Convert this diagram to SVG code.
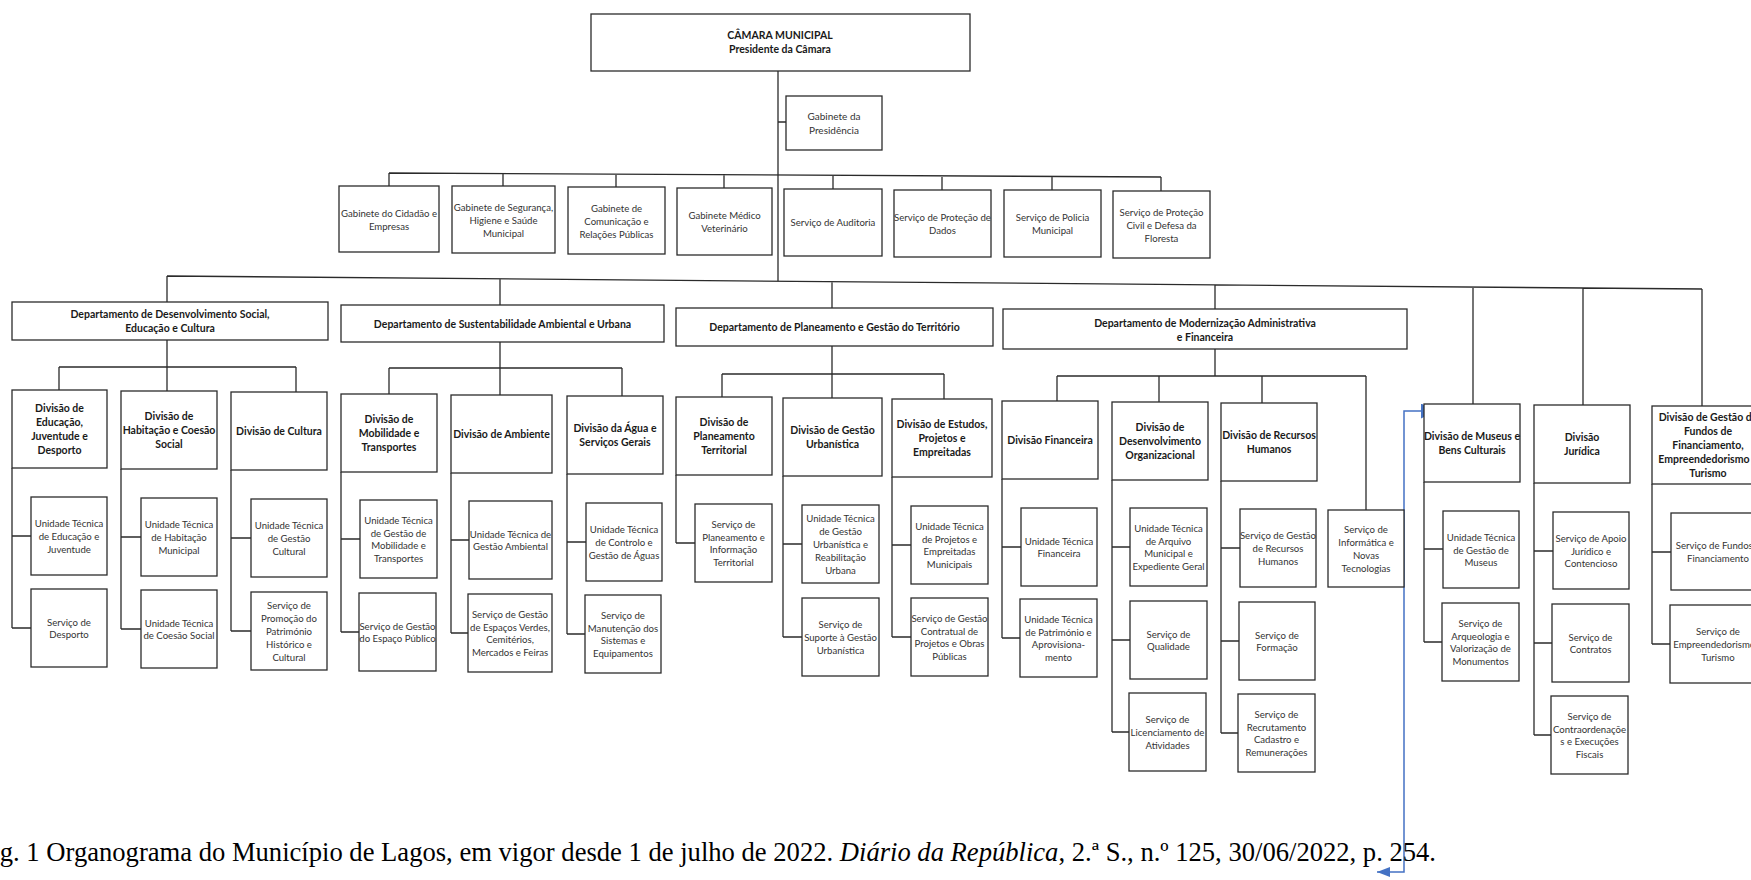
<svg xmlns="http://www.w3.org/2000/svg" width="1751" height="880" viewBox="0 0 1751 880">
<style>
.box{fill:#fff;stroke:#2b2b2b;stroke-width:1.3}
.ln{fill:none;stroke:#2b2b2b;stroke-width:1.3}
.b{font-family:Lato,"Liberation Sans",sans-serif;font-weight:bold;font-size:10.5px;fill:#1a1a1a;text-anchor:middle;dominant-baseline:central}
.r{font-family:Lato,"Liberation Sans",sans-serif;font-size:9.6px;fill:#333;text-anchor:middle;dominant-baseline:central}
.blue{fill:none;stroke:#4472C4;stroke-width:1.5}
.cap{font-family:"Liberation Serif","Times New Roman",serif;font-size:26.6px;fill:#000;text-anchor:end}
</style>
<defs>
<marker id="arrTop" markerUnits="userSpaceOnUse" markerWidth="16" markerHeight="16" refX="15" refY="7.5" orient="auto"><path d="M0,0 L15,7.5 L0,15 Z" fill="#4472C4"/></marker>
<marker id="arrBot" markerUnits="userSpaceOnUse" markerWidth="14" markerHeight="12" refX="13" refY="5" orient="auto-start-reverse"><path d="M0,0 L13,5 L0,10 Z" fill="#4472C4"/></marker>
</defs>
<rect width="1751" height="880" fill="#fff"/>

<g id="connectors">
<path class="ln" d="M778,71 V281 M778,122 H786"/>
<path class="ln" d="M389,173 L1161,177 M389,173 V186 M503,173 V186 M616,174 V187 M724,174 V188 M833,175 V189 M942,176 V190 M1052,176 V190 M1161,177 V191"/>
<path class="ln" d="M167,276 L1702,289 M167,276 V302 M500,279 V305 M832,282 V308 M1215,285 V309 M1473,287 V404 M1583,288 V405 M1702,289 V406"/>
<path class="ln" d="M167,340 V367 M59,367 H296 M59,367 V390 M167,367 V391 M296,367 V392"/>
<path class="ln" d="M500,342 V368 M389,368 H622 M389,368 V394 M500,368 V395 M622,368 V396"/>
<path class="ln" d="M832,346 V374 M722,374 H944 M722,374 V397 M832,374 V398 M944,374 V399"/>
<path class="ln" d="M1215,349 V376 M1057,376 H1366 M1057,376 V401 M1159,376 V402 M1262,376 V403 M1366,376 V510"/>
<path class="ln" d="M12,468 V628 M12,536 H31 M12,628 H31"/>
<path class="ln" d="M121,469 V629 M121,537 H141 M121,629 H141"/>
<path class="ln" d="M231,470 V631 M231,538 H251 M231,631 H251"/>
<path class="ln" d="M341,472 V632 M341,539 H360 M341,632 H359"/>
<path class="ln" d="M451,473 V633 M451,540 H469 M451,633 H468"/>
<path class="ln" d="M567,474 V634 M567,542 H586 M567,634 H585"/>
<path class="ln" d="M676,475 V543 M676,543 H695"/>
<path class="ln" d="M783,476 V637 M783,544 H802 M783,637 H802"/>
<path class="ln" d="M892,477 V637 M892,545 H911 M892,637 H911"/>
<path class="ln" d="M1002,479 V638 M1002,547 H1021 M1002,638 H1020"/>
<path class="ln" d="M1112,480 V732 M1112,547 H1130 M1112,640 H1130 M1112,732 H1129"/>
<path class="ln" d="M1221,481 V733 M1221,548 H1240 M1221,641 H1239 M1221,733 H1238"/>
<path class="ln" d="M1424,482 V642 M1424,549 H1443 M1424,642 H1442"/>
<path class="ln" d="M1534,483 V735 M1534,551 H1553 M1534,643 H1552 M1534,735 H1551"/>
<path class="ln" d="M1652,484 V644 M1652,552 H1671 M1652,644 H1670"/>
<path class="blue" d="M1377,872 H1404 V411 H1436" marker-start="url(#arrBot)" marker-end="url(#arrTop)"/>
</g>

<g id="camara"><rect class="box" x="591" y="14" width="379" height="57"/><text class="b" x="780" y="35"><tspan x="780">CÂMARA MUNICIPAL</tspan><tspan x="780" dy="14">Presidente da Câmara</tspan></text></g>
<g id="gab-presidencia"><rect class="box" x="786" y="96" width="96" height="54"/><text class="r" x="834" y="116" style="font-size:10px"><tspan x="834">Gabinete da</tspan><tspan x="834" dy="14">Presidência</tspan></text></g>

<g id="gab-cidadao"><rect class="box" x="339" y="186" width="100" height="66"/><text class="r" x="389" y="212.5"><tspan x="389">Gabinete do Cidadão e</tspan><tspan x="389" dy="13">Empresas</tspan></text></g>
<g id="gab-seguranca"><rect class="box" x="452" y="186" width="103" height="67"/><text class="r" x="503.5" y="206.5"><tspan x="503.5">Gabinete de Segurança,</tspan><tspan x="503.5" dy="13">Higiene e Saúde</tspan><tspan x="503.5" dy="13">Municipal</tspan></text></g>
<g id="gab-comunicacao"><rect class="box" x="568" y="187" width="97" height="67"/><text class="r" x="616.5" y="207.5"><tspan x="616.5">Gabinete de</tspan><tspan x="616.5" dy="13">Comunicação e</tspan><tspan x="616.5" dy="13">Relações Públicas</tspan></text></g>
<g id="gab-veterinario"><rect class="box" x="677" y="188" width="95" height="67"/><text class="r" x="724.5" y="215"><tspan x="724.5">Gabinete Médico</tspan><tspan x="724.5" dy="13">Veterinário</tspan></text></g>
<g id="serv-auditoria"><rect class="box" x="784" y="189" width="98" height="67"/><text class="r" x="833" y="222.5">Serviço de Auditoria</text></g>
<g id="serv-dados"><rect class="box" x="894" y="190" width="97" height="67"/><text class="r" x="942.5" y="217"><tspan x="942.5">Serviço de Proteção de</tspan><tspan x="942.5" dy="13">Dados</tspan></text></g>
<g id="serv-policia"><rect class="box" x="1004" y="190" width="97" height="67"/><text class="r" x="1052.5" y="217"><tspan x="1052.5">Serviço de Policia</tspan><tspan x="1052.5" dy="13">Municipal</tspan></text></g>
<g id="serv-protecao-civil"><rect class="box" x="1113" y="191" width="97" height="67"/><text class="r" x="1161.5" y="211.5"><tspan x="1161.5">Serviço de Proteção</tspan><tspan x="1161.5" dy="13">Civil e Defesa da</tspan><tspan x="1161.5" dy="13">Floresta</tspan></text></g>

<g id="dept-social"><rect class="box" x="12" y="302" width="316" height="38"/><text class="b" x="170" y="314.2"><tspan x="170">Departamento de Desenvolvimento Social,</tspan><tspan x="170" dy="13.5">Educação e Cultura</tspan></text></g>
<g id="dept-sustentabilidade"><rect class="box" x="341" y="305" width="323" height="37"/><text class="b" x="502.5" y="323.5">Departamento de Sustentabilidade Ambiental e Urbana</text></g>
<g id="dept-planeamento"><rect class="box" x="676" y="308" width="317" height="38"/><text class="b" x="834.5" y="327">Departamento de Planeamento e Gestão do Território</text></g>
<g id="dept-modernizacao"><rect class="box" x="1003" y="309" width="404" height="40"/><text class="b" x="1205" y="323"><tspan x="1205">Departamento de Modernização Administrativa</tspan><tspan x="1205" dy="14">e Financeira</tspan></text></g>

<g id="div-educacao"><rect class="box" x="12" y="390" width="95" height="78"/><text class="b" x="59.5" y="408"><tspan x="59.5">Divisão de</tspan><tspan x="59.5" dy="14">Educação,</tspan><tspan x="59.5" dy="14">Juventude e</tspan><tspan x="59.5" dy="14">Desporto</tspan></text></g>
<g id="div-habitacao"><rect class="box" x="121" y="391" width="96" height="78"/><text class="b" x="169" y="416"><tspan x="169">Divisão de</tspan><tspan x="169" dy="14">Habitação e Coesão</tspan><tspan x="169" dy="14">Social</tspan></text></g>
<g id="div-cultura"><rect class="box" x="231" y="392" width="96" height="78"/><text class="b" x="279" y="431">Divisão de Cultura</text></g>
<g id="div-mobilidade"><rect class="box" x="341" y="394" width="96" height="78"/><text class="b" x="389" y="419"><tspan x="389">Divisão de</tspan><tspan x="389" dy="14">Mobilidade e</tspan><tspan x="389" dy="14">Transportes</tspan></text></g>
<g id="div-ambiente"><rect class="box" x="451" y="395" width="101" height="78"/><text class="b" x="501.5" y="434">Divisão de Ambiente</text></g>
<g id="div-agua"><rect class="box" x="567" y="396" width="96" height="78"/><text class="b" x="615" y="428"><tspan x="615">Divisão da Água e</tspan><tspan x="615" dy="14">Serviços Gerais</tspan></text></g>
<g id="div-planeamento"><rect class="box" x="676" y="397" width="96" height="78"/><text class="b" x="724" y="422"><tspan x="724">Divisão de</tspan><tspan x="724" dy="14">Planeamento</tspan><tspan x="724" dy="14">Territorial</tspan></text></g>
<g id="div-gestao-urb"><rect class="box" x="783" y="398" width="99" height="78"/><text class="b" x="832.5" y="430"><tspan x="832.5">Divisão de Gestão</tspan><tspan x="832.5" dy="14">Urbanística</tspan></text></g>
<g id="div-estudos"><rect class="box" x="892" y="399" width="100" height="78"/><text class="b" x="942" y="424"><tspan x="942">Divisão de Estudos,</tspan><tspan x="942" dy="14">Projetos e</tspan><tspan x="942" dy="14">Empreitadas</tspan></text></g>
<g id="div-financeira"><rect class="box" x="1002" y="401" width="96" height="78"/><text class="b" x="1050" y="440">Divisão Financeira</text></g>
<g id="div-desorg"><rect class="box" x="1112" y="402" width="96" height="78"/><text class="b" x="1160" y="427"><tspan x="1160">Divisão de</tspan><tspan x="1160" dy="14">Desenvolvimento</tspan><tspan x="1160" dy="14">Organizacional</tspan></text></g>
<g id="div-rh"><rect class="box" x="1221" y="403" width="96" height="78"/><text class="b" x="1269" y="435"><tspan x="1269">Divisão de Recursos</tspan><tspan x="1269" dy="14">Humanos</tspan></text></g>
<g id="div-museus"><rect class="box" x="1424" y="404" width="96" height="78"/><text class="b" x="1472" y="436"><tspan x="1472">Divisão de Museus e</tspan><tspan x="1472" dy="14">Bens Culturais</tspan></text></g>
<g id="div-juridica"><rect class="box" x="1534" y="405" width="96" height="78"/><text class="b" x="1582" y="437"><tspan x="1582">Divisão</tspan><tspan x="1582" dy="14">Jurídica</tspan></text></g>
<g id="div-fundos"><rect class="box" x="1652" y="406" width="113" height="78"/><text class="b" x="1708" y="417"><tspan x="1708">Divisão de Gestão de</tspan><tspan x="1708" dy="14">Fundos de</tspan><tspan x="1708" dy="14">Financiamento,</tspan><tspan x="1708" dy="14">Empreendedorismo e</tspan><tspan x="1708" dy="14">Turismo</tspan></text></g>

<g id="ut-educacao"><rect class="box" x="31" y="497" width="76" height="78"/><text class="r" x="69" y="523.2"><tspan x="69">Unidade Técnica</tspan><tspan x="69" dy="12.8">de Educação e</tspan><tspan x="69" dy="12.8">Juventude</tspan></text></g>
<g id="serv-desporto"><rect class="box" x="31" y="589" width="76" height="78"/><text class="r" x="69" y="621.6"><tspan x="69">Serviço de</tspan><tspan x="69" dy="12.8">Desporto</tspan></text></g>
<g id="ut-habitacao"><rect class="box" x="141" y="498" width="76" height="78"/><text class="r" x="179" y="524.2"><tspan x="179">Unidade Técnica</tspan><tspan x="179" dy="12.8">de Habitação</tspan><tspan x="179" dy="12.8">Municipal</tspan></text></g>
<g id="ut-coesao"><rect class="box" x="141" y="590" width="76" height="78"/><text class="r" x="179" y="622.6"><tspan x="179">Unidade Técnica</tspan><tspan x="179" dy="12.8">de Coesão Social</tspan></text></g>
<g id="ut-cultural"><rect class="box" x="251" y="499" width="76" height="78"/><text class="r" x="289" y="525.2"><tspan x="289">Unidade Técnica</tspan><tspan x="289" dy="12.8">de Gestão</tspan><tspan x="289" dy="12.8">Cultural</tspan></text></g>
<g id="serv-patrimonio"><rect class="box" x="251" y="592" width="76" height="78"/><text class="r" x="289" y="605.4"><tspan x="289">Serviço de</tspan><tspan x="289" dy="12.8">Promoção do</tspan><tspan x="289" dy="12.8">Património</tspan><tspan x="289" dy="12.8">Histórico e</tspan><tspan x="289" dy="12.8">Cultural</tspan></text></g>
<g id="ut-mobilidade"><rect class="box" x="360" y="500" width="77" height="78"/><text class="r" x="398.5" y="519.8"><tspan x="398.5">Unidade Técnica</tspan><tspan x="398.5" dy="12.8">de Gestão de</tspan><tspan x="398.5" dy="12.8">Mobilidade e</tspan><tspan x="398.5" dy="12.8">Transportes</tspan></text></g>
<g id="serv-espaco-publico"><rect class="box" x="359" y="593" width="77" height="78"/><text class="r" x="397.5" y="625.6"><tspan x="397.5">Serviço de Gestão</tspan><tspan x="397.5" dy="12.8">do Espaço Público</tspan></text></g>
<g id="ut-ambiental"><rect class="box" x="469" y="501" width="83" height="78"/><text class="r" x="510.5" y="533.6"><tspan x="510.5">Unidade Técnica de</tspan><tspan x="510.5" dy="12.8">Gestão Ambiental</tspan></text></g>
<g id="serv-espacos-verdes"><rect class="box" x="468" y="594" width="84" height="78"/><text class="r" x="510" y="613.8"><tspan x="510">Serviço de Gestão</tspan><tspan x="510" dy="12.8">de Espaços Verdes,</tspan><tspan x="510" dy="12.8">Cemitérios,</tspan><tspan x="510" dy="12.8">Mercados e Feiras</tspan></text></g>
<g id="ut-aguas"><rect class="box" x="586" y="503" width="76" height="78"/><text class="r" x="624" y="529.2"><tspan x="624">Unidade Técnica</tspan><tspan x="624" dy="12.8">de Controlo e</tspan><tspan x="624" dy="12.8">Gestão de Águas</tspan></text></g>
<g id="serv-manutencao"><rect class="box" x="585" y="595" width="76" height="78"/><text class="r" x="623" y="614.8"><tspan x="623">Serviço de</tspan><tspan x="623" dy="12.8">Manutenção dos</tspan><tspan x="623" dy="12.8">Sistemas e</tspan><tspan x="623" dy="12.8">Equipamentos</tspan></text></g>
<g id="serv-planeamento"><rect class="box" x="695" y="504" width="77" height="78"/><text class="r" x="733.5" y="523.8"><tspan x="733.5">Serviço de</tspan><tspan x="733.5" dy="12.8">Planeamento e</tspan><tspan x="733.5" dy="12.8">Informação</tspan><tspan x="733.5" dy="12.8">Territorial</tspan></text></g>
<g id="ut-gestao-urb"><rect class="box" x="802" y="505" width="77" height="78"/><text class="r" x="840.5" y="518.4"><tspan x="840.5">Unidade Técnica</tspan><tspan x="840.5" dy="12.8">de Gestão</tspan><tspan x="840.5" dy="12.8">Urbanística e</tspan><tspan x="840.5" dy="12.8">Reabilitação</tspan><tspan x="840.5" dy="12.8">Urbana</tspan></text></g>
<g id="serv-suporte"><rect class="box" x="802" y="598" width="77" height="78"/><text class="r" x="840.5" y="624.2"><tspan x="840.5">Serviço de</tspan><tspan x="840.5" dy="12.8">Suporte à Gestão</tspan><tspan x="840.5" dy="12.8">Urbanística</tspan></text></g>
<g id="ut-projetos"><rect class="box" x="911" y="506" width="77" height="78"/><text class="r" x="949.5" y="525.8"><tspan x="949.5">Unidade Técnica</tspan><tspan x="949.5" dy="12.8">de Projetos e</tspan><tspan x="949.5" dy="12.8">Empreitadas</tspan><tspan x="949.5" dy="12.8">Municipais</tspan></text></g>
<g id="serv-contratual"><rect class="box" x="911" y="598" width="77" height="78"/><text class="r" x="949.5" y="617.8"><tspan x="949.5">Serviço de Gestão</tspan><tspan x="949.5" dy="12.8">Contratual de</tspan><tspan x="949.5" dy="12.8">Projetos e Obras</tspan><tspan x="949.5" dy="12.8">Públicas</tspan></text></g>
<g id="ut-financeira"><rect class="box" x="1021" y="508" width="76" height="78"/><text class="r" x="1059" y="540.6"><tspan x="1059">Unidade Técnica</tspan><tspan x="1059" dy="12.8">Financeira</tspan></text></g>
<g id="ut-patrimonio"><rect class="box" x="1020" y="599" width="77" height="78"/><text class="r" x="1058.5" y="618.8"><tspan x="1058.5">Unidade Técnica</tspan><tspan x="1058.5" dy="12.8">de Património e</tspan><tspan x="1058.5" dy="12.8">Aprovisiona-</tspan><tspan x="1058.5" dy="12.8">mento</tspan></text></g>
<g id="ut-arquivo"><rect class="box" x="1130" y="508" width="77" height="78"/><text class="r" x="1168.5" y="527.8"><tspan x="1168.5">Unidade Técnica</tspan><tspan x="1168.5" dy="12.8">de Arquivo</tspan><tspan x="1168.5" dy="12.8">Municipal e</tspan><tspan x="1168.5" dy="12.8">Expediente Geral</tspan></text></g>
<g id="serv-qualidade"><rect class="box" x="1130" y="601" width="77" height="78"/><text class="r" x="1168.5" y="633.6"><tspan x="1168.5">Serviço de</tspan><tspan x="1168.5" dy="12.8">Qualidade</tspan></text></g>
<g id="serv-licenciamento"><rect class="box" x="1129" y="693" width="77" height="78"/><text class="r" x="1167.5" y="719.2"><tspan x="1167.5">Serviço de</tspan><tspan x="1167.5" dy="12.8">Licenciamento de</tspan><tspan x="1167.5" dy="12.8">Atividades</tspan></text></g>
<g id="serv-gestao-rh"><rect class="box" x="1240" y="509" width="76" height="78"/><text class="r" x="1278" y="535.2"><tspan x="1278">Serviço de Gestão</tspan><tspan x="1278" dy="12.8">de Recursos</tspan><tspan x="1278" dy="12.8">Humanos</tspan></text></g>
<g id="serv-formacao"><rect class="box" x="1239" y="602" width="76" height="78"/><text class="r" x="1277" y="634.6"><tspan x="1277">Serviço de</tspan><tspan x="1277" dy="12.8">Formação</tspan></text></g>
<g id="serv-recrutamento"><rect class="box" x="1238" y="694" width="77" height="78"/><text class="r" x="1276.5" y="713.8"><tspan x="1276.5">Serviço de</tspan><tspan x="1276.5" dy="12.8">Recrutamento</tspan><tspan x="1276.5" dy="12.8">Cadastro e</tspan><tspan x="1276.5" dy="12.8">Remunerações</tspan></text></g>
<g id="serv-informatica"><rect class="box" x="1328" y="510" width="76" height="77"/><text class="r" x="1366" y="529.3"><tspan x="1366">Serviço de</tspan><tspan x="1366" dy="12.8">Informática e</tspan><tspan x="1366" dy="12.8">Novas</tspan><tspan x="1366" dy="12.8">Tecnologias</tspan></text></g>
<g id="ut-museus"><rect class="box" x="1443" y="511" width="76" height="77"/><text class="r" x="1481" y="536.7"><tspan x="1481">Unidade Técnica</tspan><tspan x="1481" dy="12.8">de Gestão de</tspan><tspan x="1481" dy="12.8">Museus</tspan></text></g>
<g id="serv-arqueologia"><rect class="box" x="1442" y="603" width="77" height="78"/><text class="r" x="1480.5" y="622.8"><tspan x="1480.5">Serviço de</tspan><tspan x="1480.5" dy="12.8">Arqueologia e</tspan><tspan x="1480.5" dy="12.8">Valorização de</tspan><tspan x="1480.5" dy="12.8">Monumentos</tspan></text></g>
<g id="serv-apoio-juridico"><rect class="box" x="1553" y="512" width="76" height="77"/><text class="r" x="1591" y="537.7"><tspan x="1591">Serviço de Apoio</tspan><tspan x="1591" dy="12.8">Jurídico e</tspan><tspan x="1591" dy="12.8">Contencioso</tspan></text></g>
<g id="serv-contratos"><rect class="box" x="1552" y="604" width="77" height="78"/><text class="r" x="1590.5" y="636.6"><tspan x="1590.5">Serviço de</tspan><tspan x="1590.5" dy="12.8">Contratos</tspan></text></g>
<g id="serv-contraordenacoes"><rect class="box" x="1551" y="696" width="77" height="78"/><text class="r" x="1589.5" y="715.8"><tspan x="1589.5">Serviço de</tspan><tspan x="1589.5" dy="12.8">Contraordenaçõe</tspan><tspan x="1589.5" dy="12.8">s e Execuções</tspan><tspan x="1589.5" dy="12.8">Fiscais</tspan></text></g>
<g id="serv-fundos"><rect class="box" x="1671" y="513" width="95" height="77"/><text class="r" x="1718" y="545.1"><tspan x="1718">Serviço de Fundos e</tspan><tspan x="1718" dy="12.8">Financiamento</tspan></text></g>
<g id="serv-empreendedorismo"><rect class="box" x="1670" y="605" width="96" height="78"/><text class="r" x="1718" y="631.2"><tspan x="1718">Serviço de</tspan><tspan x="1718" dy="12.8">Empreendedorismo e</tspan><tspan x="1718" dy="12.8">Turismo</tspan></text></g>

<g id="caption"><text class="cap" x="1436" y="861">Fig. 1 Organograma do Município de Lagos, em vigor desde 1 de julho de 2022. <tspan font-style="italic">Diário da República</tspan>, 2.ª S., n.º 125, 30/06/2022, p. 254.</text></g>
</svg>
